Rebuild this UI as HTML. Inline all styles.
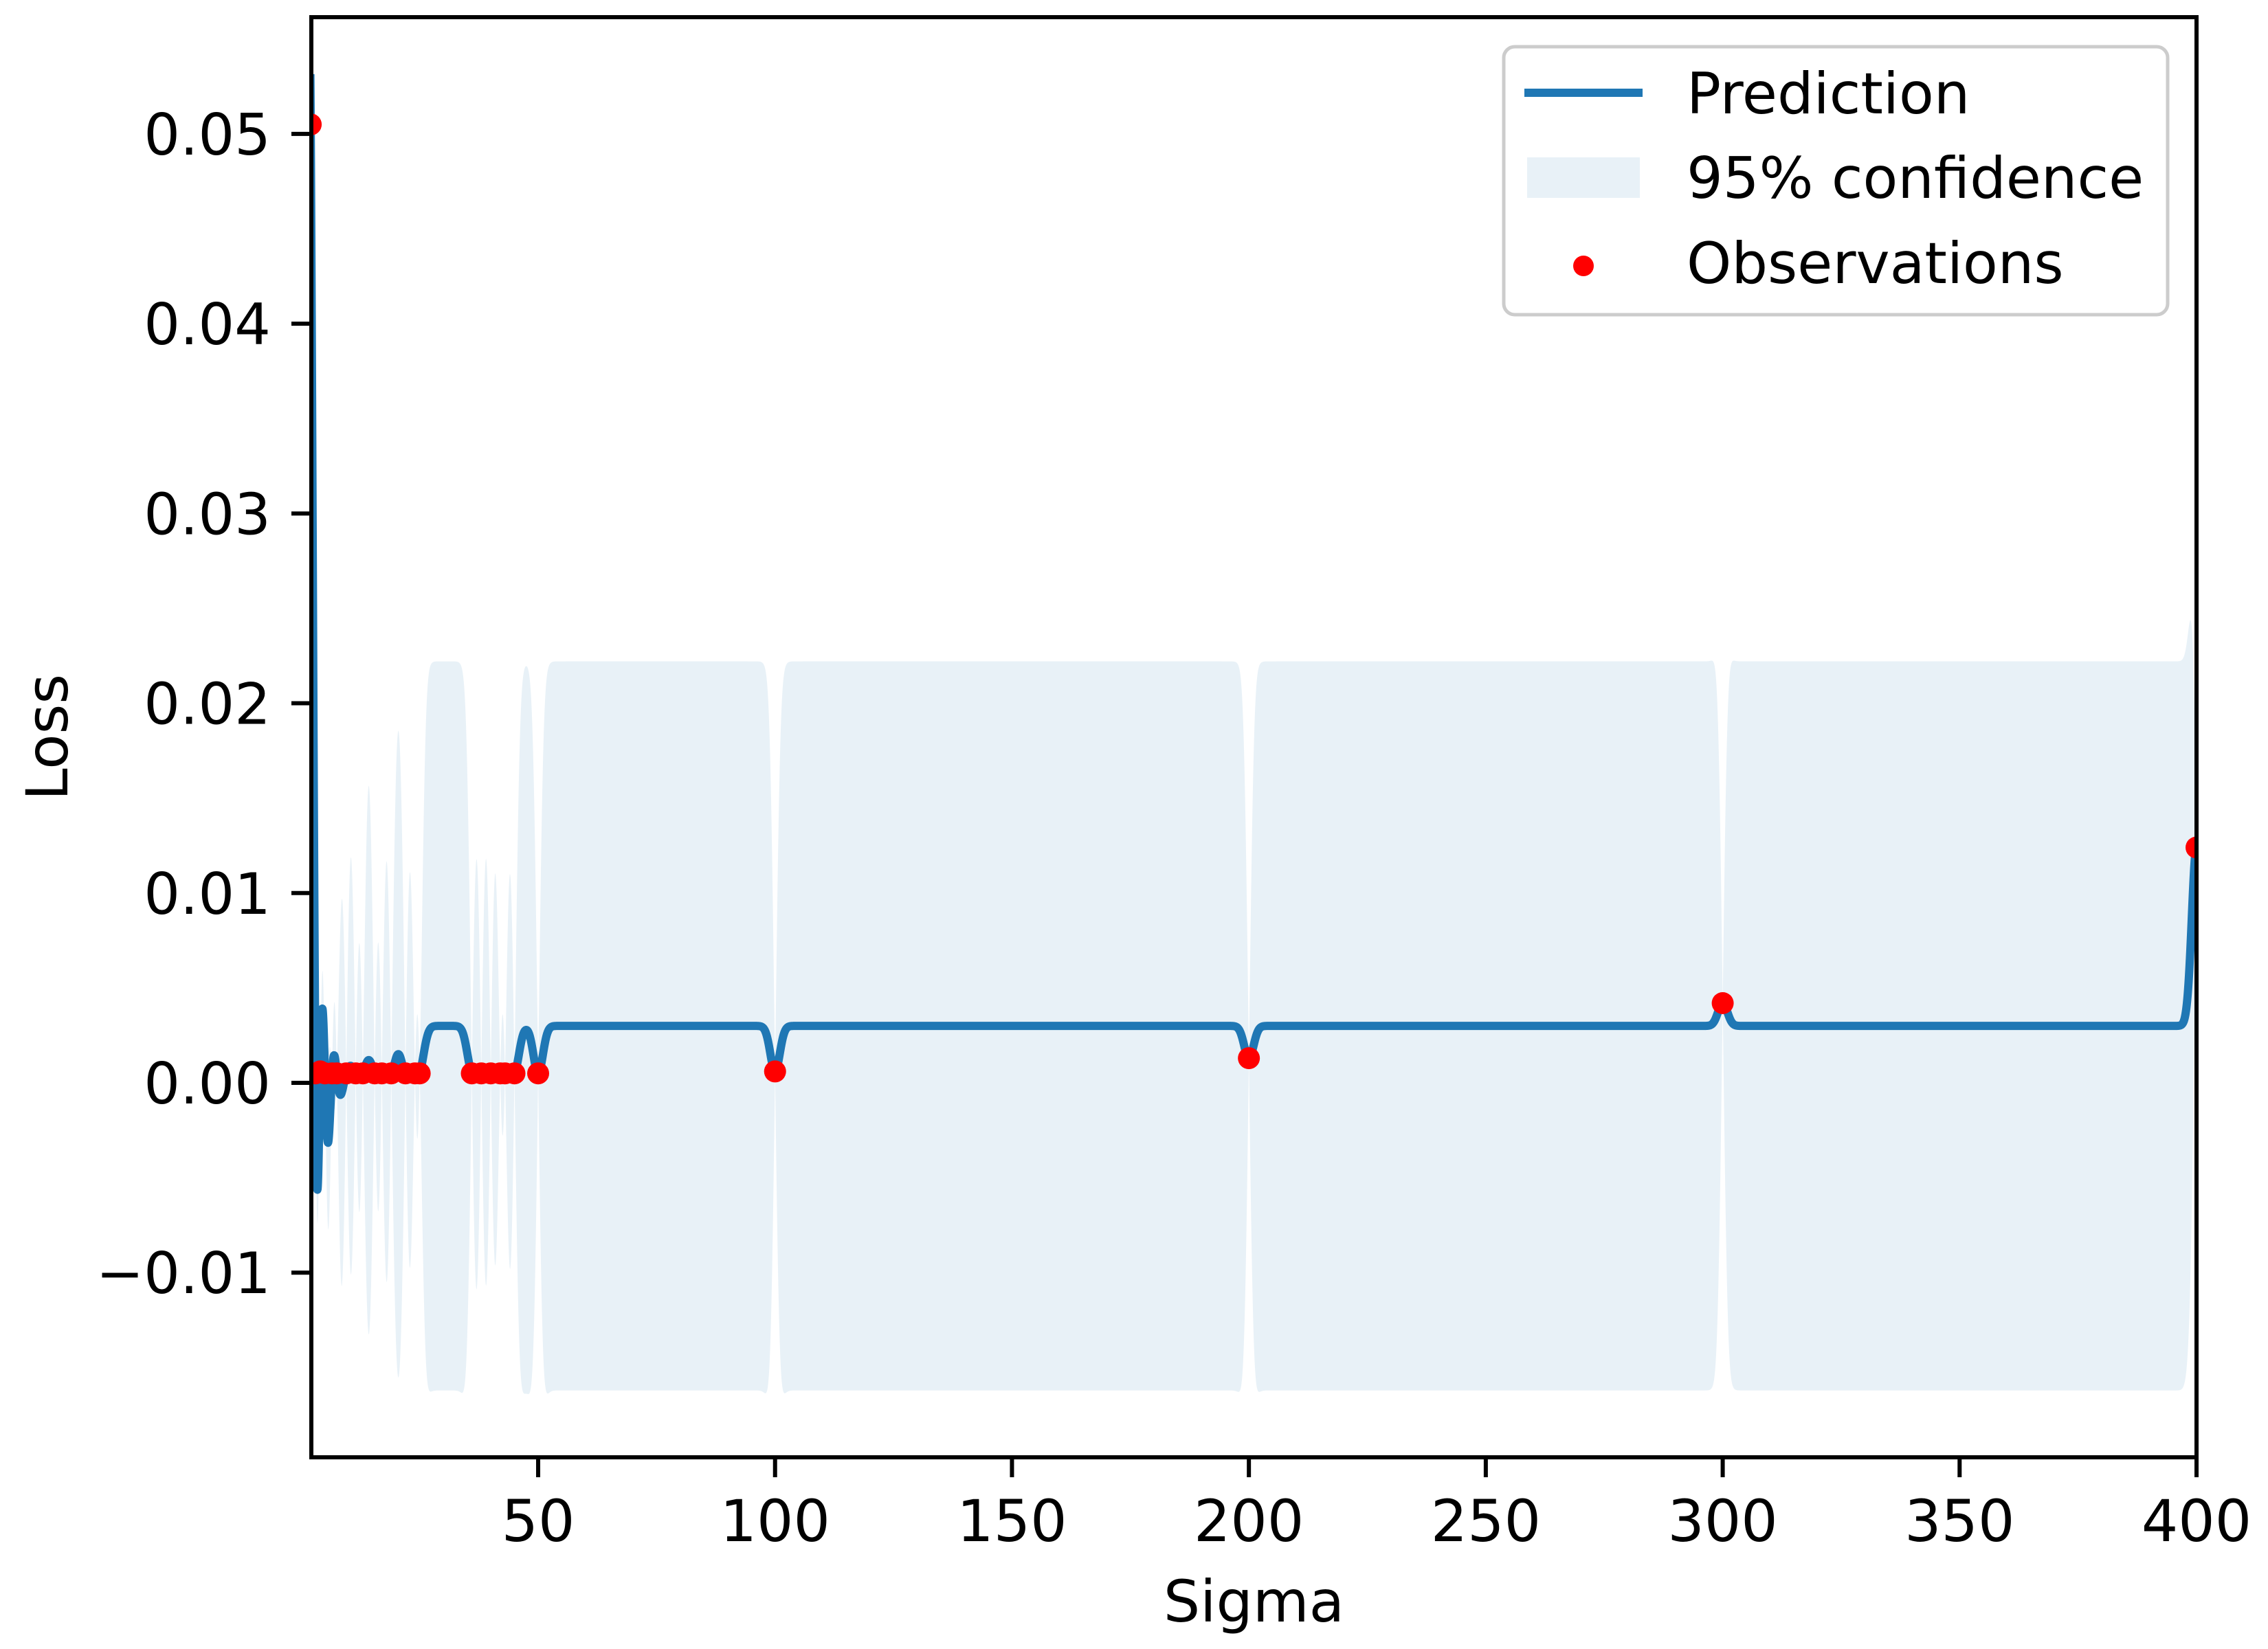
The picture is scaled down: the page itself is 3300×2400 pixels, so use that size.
<!DOCTYPE html>
<html><head><meta charset="utf-8">
<style>
html,body{margin:0;padding:0;background:#fff;}
svg{display:block;font-family:"DejaVu Sans","Liberation Sans",sans-serif;}
</style></head>
<body>
<svg id="chart" width="3300" height="2400" viewBox="0 0 3300 2400" xmlns="http://www.w3.org/2000/svg">
  <rect width="3300" height="2400" fill="#fff"/>
  <defs><clipPath id="plotclip"><rect x="453" y="25" width="2743" height="2096"/></clipPath></defs>
  <g id="plot" clip-path="url(#plotclip)"></g>
  <g id="axes"></g>
  <g id="legend">
    <rect x="2188" y="68" width="966" height="390" rx="16" ry="16" fill="#fff" fill-opacity="0.8" stroke="#cccccc" stroke-width="5"/>
    <line x1="2218" y1="135" x2="2390" y2="135" stroke="#1f77b4" stroke-width="12"/>
    <text x="2454" y="165" font-size="83">Prediction</text>
    <rect x="2222" y="229" width="164" height="59" fill="#1f77b4" fill-opacity="0.1"/>
    <text x="2454" y="288" font-size="83">95% confidence</text>
    <circle cx="2304" cy="387" r="15" fill="#ff0000"/>
    <text x="2454" y="412" font-size="83">Observations</text>
  </g>
</svg>
<script>
// ---- data ----
const obsX = [2, 3, 4, 5, 6.5, 7.5, 9.5, 11.5, 13, 15.5, 17, 19, 22, 24, 25, 36, 38, 40, 42, 43, 45, 50, 100, 200, 300, 400];
const obsY = [0.0505, 0.0005, 0.0006, 0.0005, 0.0005, 0.0005, 0.0005, 0.0005, 0.0005, 0.0005, 0.0005, 0.0005, 0.0005, 0.0005, 0.0005, 0.0005, 0.0005, 0.0005, 0.0005, 0.0005, 0.0005, 0.0005, 0.0006, 0.0013, 0.0042, 0.0124];
const xTicks = [50, 100, 150, 200, 250, 300, 350, 400];
const xTickLabels = ["50", "100", "150", "200", "250", "300", "350", "400"];
const yTicks = [-0.01, 0.00, 0.01, 0.02, 0.03, 0.04, 0.05];
const yTickLabels = ["\u22120.01", "0.00", "0.01", "0.02", "0.03", "0.04", "0.05"];
const priorMean = 0.003;
const priorStd = 0.0098;
const lengthScale = 1.0;

// ---- axes ----
const L = 453, R = 3196, T = 25, B = 2121;
const xMin = 2.13, xMax = 400;
const yMin = -0.01973, yMax = 0.05615;
const sx = v => L + (v - xMin) / (xMax - xMin) * (R - L);
const sy = v => B - (v - yMin) / (yMax - yMin) * (B - T);
const NS = "http://www.w3.org/2000/svg";
function mk(tag, attrs, parent) {
  const e = document.createElementNS(NS, tag);
  for (const k in attrs) e.setAttribute(k, attrs[k]);
  parent.appendChild(e);
  return e;
}

// ---- GP posterior ----
const n = obsX.length;
const kern = (a, b) => priorStd * priorStd * Math.exp(-(a - b) * (a - b) / (2 * lengthScale * lengthScale));
const K = [];
for (let i = 0; i < n; i++) { K.push([]); for (let j = 0; j < n; j++) K[i].push(kern(obsX[i], obsX[j]) + (i === j ? 1e-11 : 0)); }
const Lc = K.map(r => r.map(() => 0));
for (let i = 0; i < n; i++) for (let j = 0; j <= i; j++) {
  let s = K[i][j];
  for (let k = 0; k < j; k++) s -= Lc[i][k] * Lc[j][k];
  Lc[i][j] = (i === j) ? Math.sqrt(Math.max(s, 1e-20)) : s / Lc[j][j];
}
function fsolve(b) { const z = []; for (let i = 0; i < n; i++) { let s = b[i]; for (let k = 0; k < i; k++) s -= Lc[i][k] * z[k]; z.push(s / Lc[i][i]); } return z; }
function bsolve(z) { const x = new Array(n).fill(0); for (let i = n - 1; i >= 0; i--) { let s = z[i]; for (let k = i + 1; k < n; k++) s -= Lc[k][i] * x[k]; x[i] = s / Lc[i][i]; } return x; }
const alpha = bsolve(fsolve(obsY.map(v => v - priorMean)));

const plot = document.getElementById('plot');
const xs = [], mu = [], sd = [];
for (let v = xMin - 0.2; v <= xMax + 0.2; v += 0.04) {
  const k = obsX.map(o => kern(v, o));
  let m = priorMean; for (let i = 0; i < n; i++) m += k[i] * alpha[i];
  const w = fsolve(k); let q = 0; for (let i = 0; i < n; i++) q += w[i] * w[i];
  xs.push(v); mu.push(m); sd.push(Math.sqrt(Math.max(priorStd * priorStd - q, 0)));
}
let up = "", lo = "";
for (let i = 0; i < xs.length; i++) up += (i ? "L" : "M") + sx(xs[i]).toFixed(2) + "," + sy(mu[i] + 1.96 * sd[i]).toFixed(2);
for (let i = xs.length - 1; i >= 0; i--) lo += "L" + sx(xs[i]).toFixed(2) + "," + sy(mu[i] - 1.96 * sd[i]).toFixed(2);
const band = mk('path', { d: up + lo + "Z", fill: "#1f77b4", "fill-opacity": "0.1", stroke: "none" }, plot);


let ld = "";
for (let i = 0; i < xs.length; i++) ld += (i ? "L" : "M") + sx(xs[i]).toFixed(2) + "," + sy(mu[i]).toFixed(2);
const line = mk('path', { d: ld, fill: "none", stroke: "#1f77b4", "stroke-width": "12", "stroke-linejoin": "round" }, plot);


for (let i = 0; i < n; i++) {
  const c = mk('circle', { cx: sx(obsX[i]), cy: sy(obsY[i]), r: 16, fill: "#ff0000" }, plot);
  
  
}

// ---- axes drawing ----
const axes = document.getElementById('axes');
const frame = mk('rect', { x: L, y: T, width: R - L, height: B - T, fill: "none", stroke: "#000", "stroke-width": "6" }, axes);


xTicks.forEach((v, i) => {
  const x = sx(v);
  const t = mk('line', { x1: x, y1: B, x2: x, y2: B + 29, stroke: "#000", "stroke-width": "6" }, axes);
  
  
  const lb = mk('text', { x: x, y: 2243, "font-size": "84", "text-anchor": "middle" }, axes);
  lb.textContent = xTickLabels[i];
  
  
});
yTicks.forEach((v, i) => {
  const y = sy(v);
  const t = mk('line', { x1: L - 29, y1: y, x2: L, y2: y, stroke: "#000", "stroke-width": "6" }, axes);
  
  
  const lb = mk('text', { x: 394, y: y + 30, "font-size": "83", "text-anchor": "end" }, axes);
  lb.textContent = yTickLabels[i];
  
  
});
const xl = mk('text', { x: (L + R) / 2, y: 2360, "font-size": "84", "text-anchor": "middle" }, axes);
xl.textContent = "Sigma";


const yl = mk('text', { x: 0, y: 0, "font-size": "84", "text-anchor": "middle", transform: "translate(98," + ((T + B) / 2) + ") rotate(-90)" }, axes);
yl.textContent = "Loss";


</script>
</body></html>
